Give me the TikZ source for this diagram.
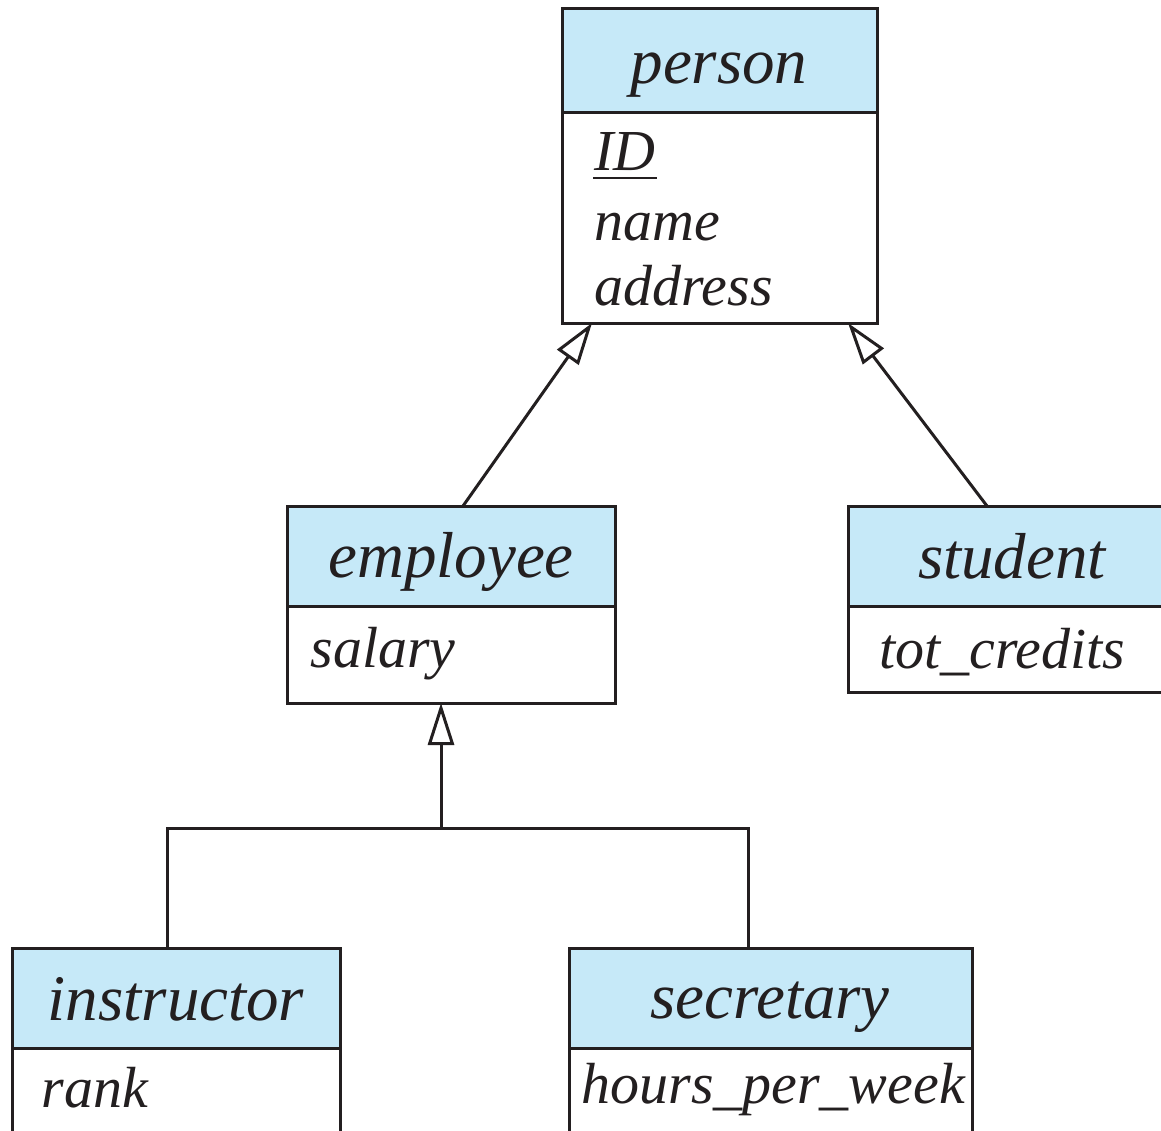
\documentclass[tikz,border=0pt]{standalone}
\usepackage{fontspec}
\setmainfont{Liberation Serif}
\usetikzlibrary{arrows.meta}
\definecolor{hdrblue}{RGB}{198,233,248}
\definecolor{ink}{RGB}{35,31,32}
\newcommand{\bigit}{\fontsize{65}{70}\selectfont\itshape}
\newcommand{\attrit}{\fontsize{58}{64}\selectfont\itshape}
\tikzset{
  hdr/.style={draw=ink, fill=hdrblue, anchor=north west, inner sep=0pt, outer sep=0pt},
  bdy/.style={draw=ink, fill=white, anchor=north west, inner sep=0pt, outer sep=0pt},
  ttl/.style={anchor=base, inner sep=0pt, text=ink, font=\bigit},
  attr/.style={anchor=base west, inner sep=0pt, text=ink, font=\attrit},
  inh/.style={draw=ink, line width=3pt, -{Triangle[open, length=42pt, width=26pt, line width=3pt]}},
  conn/.style={draw=ink, line width=3pt},
  keyline/.style={draw=ink, line width=2.5pt}
}
\begin{document}
\begin{tikzpicture}[x=1pt, y=-1pt, line width=3pt]
\clip (0,0) rectangle (1161,1130);
\fill[white] (0,0) rectangle (1161,1130);
% person
\node[hdr, minimum width=315pt, minimum height=104pt] (person) at (562,8) {};
\node[bdy, minimum width=315pt, minimum height=211pt] (personb) at (562,112) {};
\node[ttl] (tperson) at (719,83) {person};
\node[attr] (aid) at (593,170) {ID};
\node[attr] (aname) at (593,240) {name};
\node[attr] (aaddr) at (593,305) {address};
\draw[keyline] ([yshift=-8pt]aid.base west) -- ([yshift=-8pt]aid.base east);
% employee
\node[hdr, minimum width=328pt, minimum height=100pt] (employee) at (287,506) {};
\node[bdy, minimum width=328pt, minimum height=97pt] (employeeb) at (287,606) {};
\node[ttl] (temployee) at (451,577) {employee};
\node[attr] (asalary) at (309,667) {salary};
% student
\node[hdr, minimum width=330pt, minimum height=100pt] (student) at (848,506) {};
\node[bdy, minimum width=330pt, minimum height=86pt] (studentb) at (848,606) {};
\node[ttl] (tstudent) at (1012,578) {student};
\node[attr] (acred) at (878,668) {tot\_credits};
% instructor
\node[hdr, minimum width=328pt, minimum height=100pt] (instructor) at (12,948) {};
\node[bdy, minimum width=328pt, minimum height=140pt] (instructorb) at (12,1048) {};
\node[ttl] (tinstructor) at (176,1020) {instructor};
\node[attr] (arank) at (40,1107) {rank};
% secretary
\node[hdr, minimum width=403pt, minimum height=100pt] (secretary) at (569,948) {};
\node[bdy, minimum width=403pt, minimum height=140pt] (secretaryb) at (569,1048) {};
\node[ttl] (tsecretary) at (770,1018) {secretary};
\node[attr] (ahours) at (580,1103) {hours\_per\_week};
% connector points
\coordinate (pL) at (592,323);
\coordinate (pR) at (848,323);
\coordinate (eT) at (463,506);
\coordinate (sT) at (987,506);
\coordinate (eB) at (441,703);
\coordinate (jn) at (441,828);
\coordinate (iT) at (167,948);
\coordinate (cT) at (748,948);
\draw[inh] (eT) -- (pL);
\draw[inh] (sT) -- (pR);
\draw[inh] (jn) -- (eB);
\draw[conn] (iT) |- (jn) -| (cT);
\end{tikzpicture}
\end{document}
